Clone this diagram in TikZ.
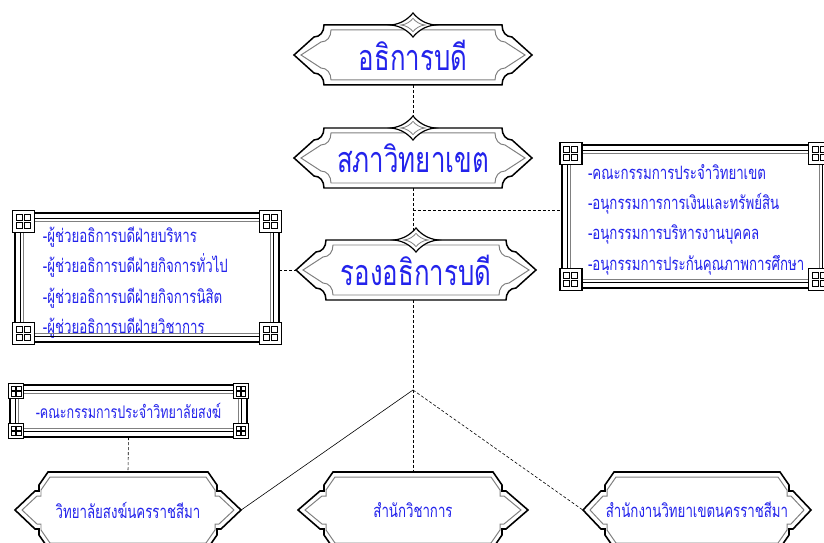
\documentclass[tikz,border=0pt]{standalone}
\usepackage{fontspec}
\newfontfamily\thaifont[Script=Thai,FakeStretch=0.72]{Loma}
\usetikzlibrary{positioning}
\definecolor{orgblue}{RGB}{35,35,235}
\tikzset{
  %define style for the title frames
  titlebox/.style={
    inner sep=0pt,
    minimum width=238bp,
    minimum height=60bp,
    text=orgblue,
    font=\thaifont\fontsize{36}{40}\selectfont},
  %define style for the lower frames
  basebox/.style={
    inner sep=0pt,
    minimum height=76bp,
    text=orgblue,
    font=\thaifont\fontsize{18.5}{20}\selectfont},
  %define style for the square frames
  fretbox/.style={
    inner sep=0pt,
    text=orgblue,
    font=\thaifont\fontsize{17.5}{20}\selectfont},
  listtext/.style={
    inner sep=0pt,
    anchor=west,
    align=left,
    text=orgblue,
    font=\thaifont\fontsize{18.5}{30.5}\selectfont},
  %define style for connectors
  link/.style={line width=0.6pt, dash pattern=on 3pt off 2pt},
  solidlink/.style={line width=0.6pt}
}

%outline of a title frame: half width, half height
\newcommand{\titleoutline}[2]{%
  (-#1,0) -- (-#1+20,-#2+12) .. controls (-#1+26,-#2+12) and (-#1+30,-#2+7) .. (-#1+30,-#2)
  -- (#1-30,-#2) .. controls (#1-30,-#2+7) and (#1-26,-#2+12) .. (#1-20,-#2+12)
  -- (#1,0) -- (#1-20,#2-12) .. controls (#1-26,#2-12) and (#1-30,#2-7) .. (#1-30,#2)
  -- (-#1+30,#2) .. controls (-#1+30,#2-7) and (-#1+26,#2-12) .. (-#1+20,#2-12) -- cycle}
\newcommand{\knob}{%
  (-22,0) .. controls (-12,-1) and (-5,-6) .. (0,-12) .. controls (5,-6) and (12,-1) .. (22,0)
  .. controls (12,1) and (5,6) .. (0,12) .. controls (-5,6) and (-12,1) .. (-22,0) -- cycle}
\newcommand{\titleframe}[3]{%
  \begin{scope}[shift={(#1.center)}]
    \pgfmathsetmacro\iw{#2-7}\pgfmathsetmacro\ih{#3-5}
    \draw[line width=1.5pt] \titleoutline{#2}{#3};
    \draw[gray, line width=1pt] \titleoutline{\iw}{\ih};
    \begin{scope}[shift={(0,-#3)}]
      \filldraw[fill=white, line width=1.2pt] \knob;
      \draw[gray, line width=0.8pt, scale=0.55] \knob;
    \end{scope}
  \end{scope}}

%outline of a lower frame: half width, half top edge, half height
\newcommand{\baseoutline}[3]{%
  (-#1,0) -- (-#2-13,-#3+19) -- (-#2-9,-#3+19) -- (-#2-9,-#3+13) -- (-#2,-#3)
  -- (#2,-#3) -- (#2+9,-#3+13) -- (#2+9,-#3+19) -- (#2+13,-#3+19) -- (#1,0)
  -- (#2+13,#3-19) -- (#2+9,#3-19) -- (#2+9,#3-13) -- (#2,#3)
  -- (-#2,#3) -- (-#2-9,#3-13) -- (-#2-9,#3-19) -- (-#2-13,#3-19) -- cycle}
\newcommand{\baseframe}[4]{%
  \begin{scope}[shift={(#1.center)}]
    \pgfmathsetmacro\iw{#2-7}\pgfmathsetmacro\it{#3-2}\pgfmathsetmacro\ih{#4-5}
    \draw[line width=1.6pt] \baseoutline{#2}{#3}{#4};
    \draw[gray, line width=1pt] \baseoutline{\iw}{\it}{\ih};
  \end{scope}}

%square frame with fret corners (optional corner scale)
\newcommand{\fretframe}[2][1]{%
  \draw[line width=2pt] (#2.north west) rectangle (#2.south east);
  \draw[line width=1.1pt] ([shift={(6,6)}]#2.north west) rectangle ([shift={(-6,-6)}]#2.south east);
  \draw[gray, line width=0.9pt] ([shift={(9,9)}]#2.north west) rectangle ([shift={(-9,-9)}]#2.south east);
  \foreach \corner/\sx/\sy in {north west/1/1, north east/-1/1, south west/1/-1, south east/-1/-1}{
    \begin{scope}[shift={(#2.\corner)}, xscale=\sx, yscale=\sy, scale=#1]
      \filldraw[fill=white, line width=1.4pt] (-2,-2) rectangle (20,20);
      \draw[line width=1pt] (2,2) rectangle (8,8) (10,2) rectangle (16,8)
        (2,10) rectangle (8,16) (10,10) rectangle (16,16);
    \end{scope}}}

\begin{document}
\begin{tikzpicture}[x=1bp, y=-1bp]
\useasboundingbox (0,0) rectangle (824,543);
\clip (0,0) rectangle (824,543);

%nodes
\node[titlebox] (rector) at (413,55) {อธิการบดี};
\node[titlebox] (council) at (413,158) {สภาวิทยาเขต};
\node[titlebox] (vicerector) at (416,270) {รองอธิการบดี};

\node[fretbox, minimum width=266bp, minimum height=143bp] (campuscom) at (695,216.5) {};
\node[listtext, right=26bp of campuscom.west, yshift=-3bp] (campuslist)
     {-คณะกรรมการประจำวิทยาเขต\\-อนุกรรมการการเงินและทรัพย์สิน\\-อนุกรรมการบริหารงานบุคคล\\-อนุกรรมการประกันคุณภาพการศึกษา};
\node[fretbox, minimum width=264bp, minimum height=129bp] (assist) at (147,277.5) {};
\node[listtext, right=28bp of assist.west, yshift=-5bp] (assistlist)
     {-ผู้ช่วยอธิการบดีฝ่ายบริหาร\\-ผู้ช่วยอธิการบดีฝ่ายกิจการทั่วไป\\-ผู้ช่วยอธิการบดีฝ่ายกิจการนิสิต\\-ผู้ช่วยอธิการบดีฝ่ายวิชาการ};
\node[fretbox, minimum width=237bp, minimum height=52bp] (collegecom) at (128.5,411)
     {-คณะกรรมการประจำวิทยาลัยสงฆ์};

\node[basebox, minimum width=226bp] (college) at (128,510) {วิทยาลัยสงฆ์นครราชสีมา};
\node[basebox, minimum width=230bp] (academic) at (413,510) {สำนักวิชาการ};
\node[basebox, minimum width=228bp] (campusoffice) at (697,510) {สำนักงานวิทยาเขตนครราชสีมา};

\coordinate (tap) at (413,210);
\coordinate (split) at (413,390);

%connectors
\draw[link] (rector.south) -- (council.north);
\draw[link] (council.south) -- (council.south |- vicerector.north);
\draw[link] (tap) -- (tap -| campuscom.west);
\draw[link] (vicerector.west -| assist.east) -- (vicerector.west);
\draw[link] (vicerector.south -| split) -- (split);
\draw[solidlink] (split) -- (college.east);
\draw[link] (split) -- (academic.north);
\draw[link] (split) -- (campusoffice.west);
\draw[link] (collegecom.south) -- (college.north);

%frames
\titleframe{rector}{119}{30}
\titleframe{council}{119}{30}
\titleframe{vicerector}{120}{30}
\fretframe{campuscom}
\fretframe{assist}
\fretframe[0.7]{collegecom}
\baseframe{college}{113}{80}{38}
\baseframe{academic}{115}{80}{38}
\baseframe{campusoffice}{114}{83}{38}

\end{tikzpicture}
\end{document}
